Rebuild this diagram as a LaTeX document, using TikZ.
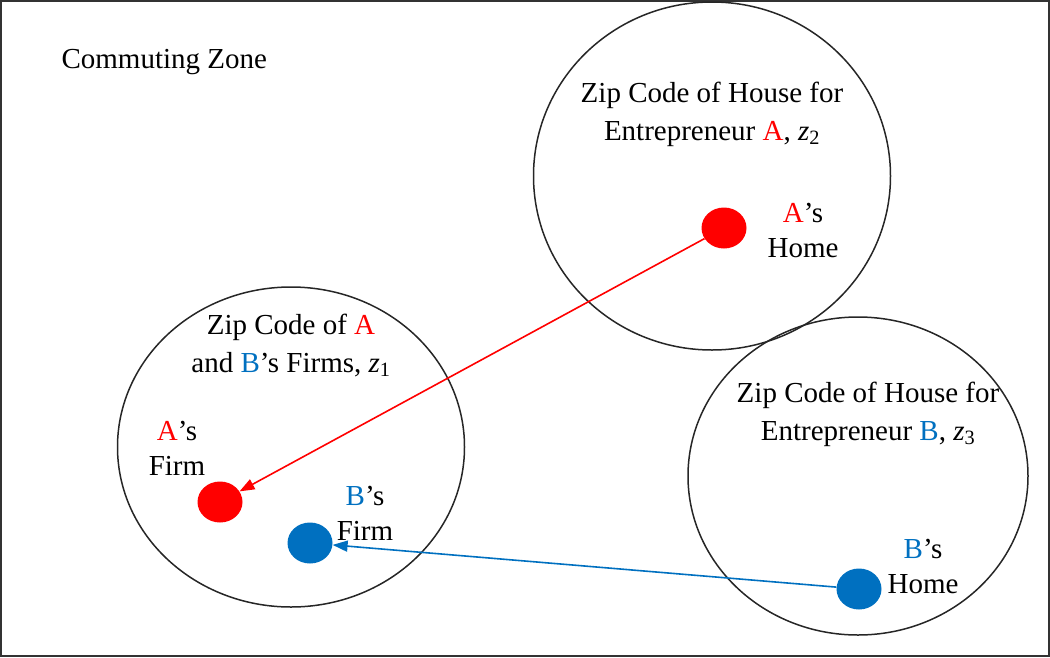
\documentclass[tikz,border=0pt]{standalone}
\usepackage{fontspec}
\setmainfont{Liberation Serif}
\usetikzlibrary{arrows.meta,shapes.geometric}
\definecolor{ared}{RGB}{255,0,0}
\definecolor{bblue}{RGB}{0,112,192}
\tikzset{
  zone/.style={draw=black!85, line width=1.5pt, ellipse, inner sep=0pt},
  spot/.style={ellipse, inner sep=0pt, minimum width=45pt, minimum height=41pt},
  title/.style={align=center, anchor=base, font=\fontsize{29}{37.5}\selectfont},
  lbl/.style={align=center, anchor=base, font=\fontsize{29}{35}\selectfont},
  conn/.style={line width=1.6pt, -{Triangle[length=15pt,width=11pt]}},
}
\begin{document}
\begin{tikzpicture}[x=1pt,y=-1pt]
\useasboundingbox (0,0) rectangle (1050,657);
\draw[line width=2pt, black!80] (1,1) rectangle (1049,656);

\node[zone, minimum width=357pt, minimum height=348pt] (z2) at (712,176) {};
\node[zone, minimum width=347pt, minimum height=320pt] (z1) at (291,447) {};
\node[zone, minimum width=340pt, minimum height=318pt] (z3) at (858,476) {};

\node[anchor=base west, font=\fontsize{29}{35}\selectfont] (cz) at (58,68) {Commuting Zone};

\node[title] (t2) at (712,140) {Zip Code of House for\\Entrepreneur \textcolor{ared}{A}, {\itshape z}\textsubscript{2}};
\node[title] (t1) at (291,372) {Zip Code of \textcolor{ared}{A}\\and \textcolor{bblue}{B}’s Firms, {\itshape z}\textsubscript{1}};
\node[title] (t3) at (868,440) {Zip Code of House for\\Entrepreneur \textcolor{bblue}{B}, {\itshape z}\textsubscript{3}};

\node[lbl] (lah) at (803,257) {\textcolor{ared}{A}’s\\Home};
\node[lbl] (laf) at (177,475) {\textcolor{ared}{A}’s\\Firm};
\node[lbl] (lbf) at (365,540) {\textcolor{bblue}{B}’s\\Firm};
\node[lbl] (lbh) at (923,593) {\textcolor{bblue}{B}’s\\Home};

\node[spot, fill=ared] (ahome) at (724,228) {};
\node[spot, fill=ared] (afirm) at (220,502) {};
\node[spot, fill=bblue] (bfirm) at (310,543) {};
\node[spot, fill=bblue] (bhome) at (859,589) {};

\draw[conn, ared] (ahome) -- (afirm);
\draw[conn, bblue] (bhome) -- (bfirm);
\end{tikzpicture}
\end{document}
